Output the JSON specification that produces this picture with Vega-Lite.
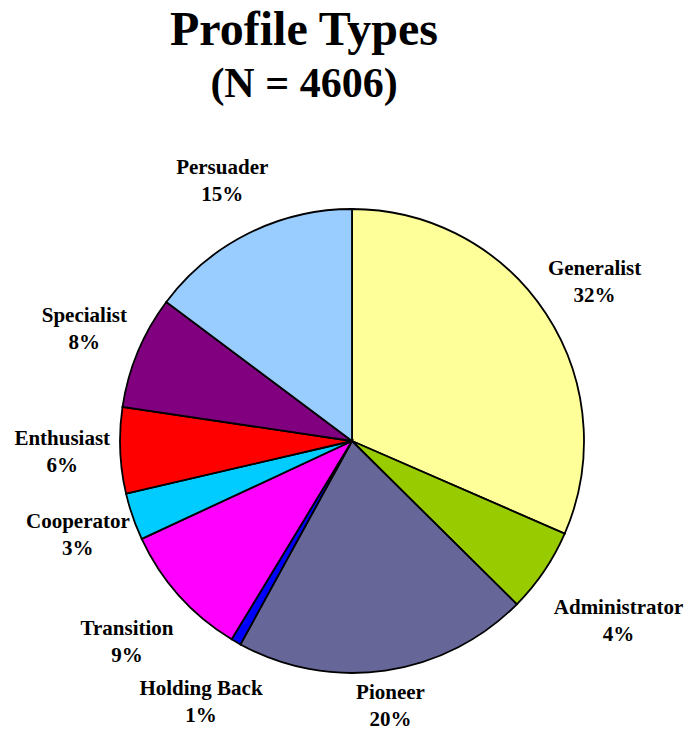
{
  "$schema": "https://vega.github.io/schema/vega-lite/v6.json",
  "width": 692,
  "height": 588,
  "autosize": {"type": "none"},
  "padding": {"left": 6, "top": 147, "right": 0, "bottom": 0},
  "background": "white",
  "title": {
    "text": "Profile Types",
    "subtitle": "(N = 4606)",
    "font": "Liberation Serif",
    "fontSize": 48,
    "fontWeight": "bold",
    "color": "black",
    "subtitleFont": "Liberation Serif",
    "subtitleFontSize": 42,
    "subtitleFontWeight": "bold",
    "subtitleColor": "black",
    "subtitlePadding": 9,
    "anchor": "middle",
    "dx": -48,
    "offset": 24
  },
  "data": {
    "values": [
      {"rank": 1, "type": "Generalist", "share": 31.6, "pct": "32%"},
      {"rank": 2, "type": "Administrator", "share": 5.9, "pct": "4%"},
      {"rank": 3, "type": "Pioneer", "share": 20.6, "pct": "20%"},
      {"rank": 4, "type": "Holding Back", "share": 0.7, "pct": "1%"},
      {"rank": 5, "type": "Transition", "share": 9.4, "pct": "9%"},
      {"rank": 6, "type": "Cooperator", "share": 3.3, "pct": "3%"},
      {"rank": 7, "type": "Enthusiast", "share": 6.0, "pct": "6%"},
      {"rank": 8, "type": "Specialist", "share": 7.9, "pct": "8%"},
      {"rank": 9, "type": "Persuader", "share": 14.8, "pct": "15%"}
    ]
  },
  "transform": [
    {"calculate": "datum.type + '\\n' + datum.pct", "as": "label"}
  ],
  "encoding": {
    "theta": {"field": "share", "type": "quantitative", "stack": true},
    "order": {"field": "rank", "type": "quantitative"}
  },
  "layer": [
    {
      "mark": {"type": "arc", "outerRadius": 232, "stroke": "black", "strokeWidth": 1.8},
      "encoding": {
        "color": {
          "field": "type",
          "type": "nominal",
          "scale": {
            "domain": ["Generalist", "Administrator", "Pioneer", "Holding Back", "Transition", "Cooperator", "Enthusiast", "Specialist", "Persuader"],
            "range": ["#FFFF99", "#99CC00", "#666699", "#0000FF", "#FF00FF", "#00CCFF", "#FF0000", "#800080", "#99CCFF"]
          },
          "legend": null
        }
      }
    },
    {
      "mark": {"type": "text", "radius": 290, "dy": -13.5, "font": "Liberation Serif", "fontSize": 21, "fontWeight": "bold", "color": "black", "lineBreak": "\n", "lineHeight": 27, "baseline": "middle", "align": "center"},
      "encoding": {
        "text": {"condition": {"test": "indexof(['Generalist','Cooperator','Enthusiast','Specialist','Persuader'], datum.type) >= 0", "field": "label"}, "value": ""}
      }
    },
    {
      "mark": {"type": "text", "radius": 268, "dy": -13.5, "font": "Liberation Serif", "fontSize": 21, "fontWeight": "bold", "color": "black", "lineBreak": "\n", "lineHeight": 27, "baseline": "middle", "align": "center"},
      "encoding": {
        "text": {"condition": {"test": "datum.type === 'Pioneer'", "field": "label"}, "value": ""}
      }
    },
    {
      "mark": {"type": "text", "radius": 322, "dy": -13.5, "font": "Liberation Serif", "fontSize": 21, "fontWeight": "bold", "color": "black", "lineBreak": "\n", "lineHeight": 27, "baseline": "middle", "align": "center"},
      "encoding": {
        "text": {"condition": {"test": "datum.type === 'Administrator'", "field": "label"}, "value": ""}
      }
    },
    {
      "mark": {"type": "text", "radius": 302, "dy": -13.5, "font": "Liberation Serif", "fontSize": 21, "fontWeight": "bold", "color": "black", "lineBreak": "\n", "lineHeight": 27, "baseline": "middle", "align": "center"},
      "encoding": {
        "text": {"condition": {"test": "datum.type === 'Holding Back' || datum.type === 'Transition'", "field": "label"}, "value": ""}
      }
    }
  ]
}
